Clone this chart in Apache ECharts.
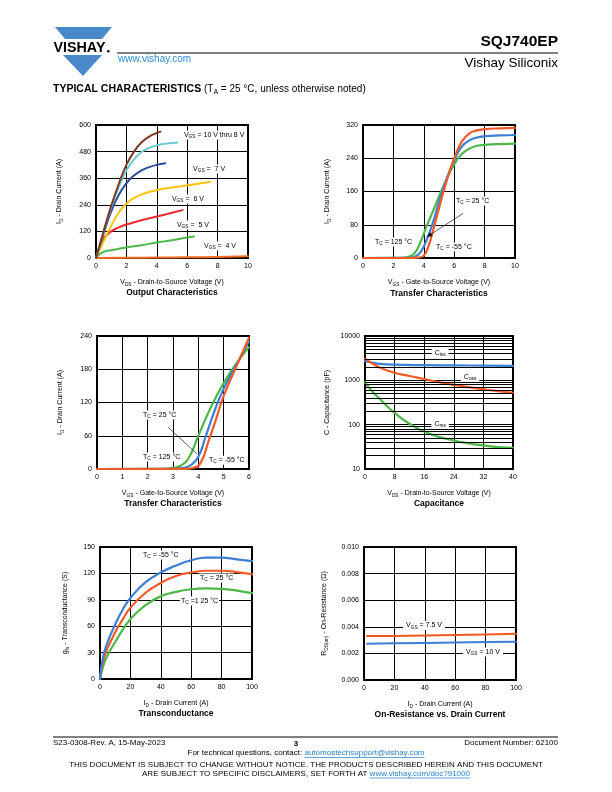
<!DOCTYPE html>
<html><head><meta charset="utf-8">
<script src="https://cdn.jsdelivr.net/npm/echarts@6/dist/echarts.min.js"></script>
<style>html,body{margin:0;padding:0;background:#fff}#c{width:612px;height:792px}</style>
</head><body><div id="c"></div>
<script>
// ---------- DATA ----------
// Output characteristics (VDS in V, ID in A)
const outVds10 = [0,0.5,1,1.5,2,2.5,3,3.5,4,4.25];
const outId10  = [0,120,235,335,420,480,522,548,564,570];
const outVds9  = [0,0.5,1,1.5,2,2.5,3,3.5,4,4.5,5,5.35];
const outId9   = [0,118,228,320,395,445,478,497,508,515,519,521];
const outVds7  = [0,0.5,1,1.5,2,2.5,3,3.5,4,4.55];
const outId7   = [0,110,210,285,337,372,395,410,420,427];
const outVds6  = [0,0.5,1,1.5,2,2.5,3,4,5,6,7,7.5];
const outId6   = [0,75,145,205,245,270,287,306,318,328,338,344];
const outVds5  = [0,0.25,0.5,1,1.5,2,3,4,5,5.7];
const outId5   = [0,50,88,120,138,151,170,187,204,216];
const outVdsG  = [0,0.3,0.6,1,2,3,4,5,6,6.45];
const outIdG   = [0,20,30,35,47,58,70,80,92,97];
const outVds4  = [0,2,4,6,8,10];
const outId4   = [0,1,2,3,5,8];

// Transfer characteristics 0-10 V
const trVgsM55 = [0,3,3.6,4,4.3,4.6,5,5.5,6,6.5,7,7.5,8,9,10];
const trIdM55  = [0,0,1,6,28,65,120,185,240,280,300,307,310,312,313];
const trVgs25  = [0,3,3.4,3.8,4.2,4.6,5,5.5,6,6.5,7,7.5,8,9,10];
const trId25   = [0,0.5,3,15,45,85,135,190,235,268,283,290,293,295,296];
const trVgs125 = [0,2.5,3,3.4,3.8,4.2,4.6,5,5.5,6,6.5,7,7.5,8,9,10];
const trId125  = [0,0.5,3,12,40,78,112,148,190,225,250,263,270,272,274,275];

// Transfer characteristics 0-6 V
const tr2VgsM55 = [0,3.5,3.8,4.1,4.4,4.7,5,5.5,6];
const tr2IdM55  = [0,0.3,2,12,50,90,132,185,237];
const tr2Vgs25  = [0,3,3.4,3.7,4,4.3,4.6,5,5.5,6];
const tr2Id25   = [0,0.3,2,7,22,60,100,145,188,230];
const tr2Vgs125 = [0,2.6,3,3.3,3.6,4,4.5,5,5.5,6];
const tr2Id125  = [0,0.3,2,6,18,60,112,155,190,220];

// Capacitance (VDS in V, C in pF)
const capVdsIss = [0,2,4,8,16,24,32,40];
const capCiss   = [2700,2500,2350,2250,2200,2170,2150,2120];
const capVdsOss = [0,2,4,8,12,16,20,24,28,32,36,40];
const capCoss   = [3100,2400,1950,1480,1250,1070,910,790,700,630,570,520];
const capVdsRss = [0,2,4,6,8,12,16,20,24,28,32,36,40];
const capCrss   = [900,560,380,260,185,105,70,53,44,38,34,31,30];

// Transconductance (ID in A, gfs in S)
const gfsId     = [0,2,5,10,15,20,30,40,50,60,70,80,90,100];
const gfsM55    = [0,25,42,62,79,92,110,121,129,135,138,138,136,134];
const gfs25     = [0,20,35,53,68,81,98,109,117,121,123,123,121.5,119];
const gfs125    = [0,14,27,42,56,68,84,94,99,102,103,102.5,100.5,97.5];

// On-resistance vs drain current
const rdsId     = [2,20,40,60,80,100];
const rds75V    = [0.0033,0.00331,0.00334,0.00338,0.00343,0.00348];
const rds10V    = [0.00273,0.00276,0.00279,0.00282,0.00285,0.00288];

// ---------- STYLE ----------
const FF = '"Liberation Sans", Arial, sans-serif';
const SUB = {fontSize:4.8, lineHeight:9, verticalAlign:'bottom', fontFamily:FF};
const chart = echarts.init(document.getElementById('c'), null, {renderer:'canvas', width:612, height:792});

const grids = [
  {left:96,  top:125, width:152, height:133},
  {left:363, top:125, width:152, height:133},
  {left:97,  top:336, width:152, height:133},
  {left:365, top:336, width:148, height:133},
  {left:100, top:547, width:152, height:132},
  {left:364, top:547, width:152, height:133}
].map(g => Object.assign({show:true, borderColor:'#000', borderWidth:2, backgroundColor:'transparent', containLabel:false}, g));

const axisNameStyle = {fontSize:7, fontFamily:FF, color:'#000', lineHeight:9, rich:{s:SUB}};
function xA(gi, min, max, interval, name){
  return {type:'value', gridIndex:gi, min, max, interval, name, nameLocation:'middle', nameGap:20,
    nameTextStyle:axisNameStyle,
    axisLine:{show:true, onZero:false, lineStyle:{color:'#000', width:2}}, axisTick:{show:false},
    axisLabel:{fontSize:7, fontFamily:FF, color:'#000', margin:5},
    splitLine:{show:true, lineStyle:{color:'#000', width:1}}};
}
function yA(gi, min, max, interval, name, gap, extra){
  return Object.assign({type:'value', gridIndex:gi, min, max, interval, name, nameLocation:'middle', nameGap:gap,
    nameTextStyle:axisNameStyle,
    axisLine:{show:true, onZero:false, lineStyle:{color:'#000', width:2}}, axisTick:{show:false},
    axisLabel:{fontSize:7, fontFamily:FF, color:'#000', margin:5},
    splitLine:{show:true, lineStyle:{color:'#000', width:1}}}, extra||{});
}
function ln(gi, xs, ys, color, w, smooth){
  return {type:'line', xAxisIndex:gi, yAxisIndex:gi, data:xs.map((x,i)=>[x,ys[i]]),
    showSymbol:false, symbol:'none', smooth:(smooth===false?false:true),
    lineStyle:{color, width:w||2, cap:'round', join:'round'}, itemStyle:{color}, silent:true, z:3, animation:false};
}

const C_ORG = '#F15A24', C_BLU = '#3B7FD6', C_GRN = '#4DB848';

const minorLog = [];
[10,100,1000].forEach(d => { for (let k=2;k<=9;k++) minorLog.push({yAxis:d*k}); });

const option = {
  animation:false,
  grid:grids,
  xAxis:[
    xA(0,0,10,2,'V{s|DS} - Drain-to-Source Voltage (V)'),
    xA(1,0,10,2,'V{s|GS} - Gate-to-Source Voltage (V)'),
    xA(2,0,6,1,'V{s|GS} - Gate-to-Source Voltage (V)'),
    xA(3,0,40,8,'V{s|DS} - Drain-to-Source Voltage (V)'),
    xA(4,0,100,20,'I{s|D} - Drain Current (A)'),
    xA(5,0,100,20,'I{s|D} - Drain Current (A)')
  ],
  yAxis:[
    yA(0,0,600,120,'I{s|D} - Drain Current (A)',32),
    yA(1,0,320,80,'I{s|D} - Drain Current (A)',31),
    yA(2,0,240,60,'I{s|D} - Drain Current (A)',32),
    yA(3,10,10000,null,'C - Capacitance (pF)',33,{type:'log', logBase:10, interval:undefined,
      axisLabel:{fontSize:7, fontFamily:FF, color:'#000', margin:5, formatter:v=>String(Math.round(v))}}),
    yA(4,0,150,30,'g{s|fs} - Transconductance (S)',30),
    yA(5,0,0.01,0.002,'R{s|DS(on)} - On-Resistance (Ω)',35,{axisLabel:{fontSize:7, fontFamily:FF, color:'#000', margin:5, formatter:v=>v.toFixed(3)}})
  ],
  series:[
    ln(0,outVds4,outId4,'#F26B21'),
    ln(0,outVdsG,outIdG,'#4CB848'),
    ln(0,outVds5,outId5,'#EE2A2F'),
    ln(0,outVds6,outId6,'#FFC20E'),
    ln(0,outVds7,outId7,'#2B4C9B'),
    ln(0,outVds9,outId9,'#6CCBD4'),
    ln(0,outVds10,outId10,'#7E3A22'),

    ln(1,trVgs125,trId125,C_GRN,2.2),
    ln(1,trVgs25,trId25,C_BLU,2.2),
    ln(1,trVgsM55,trIdM55,C_ORG,2.2),

    ln(2,tr2Vgs125,tr2Id125,C_GRN,2.2),
    ln(2,tr2Vgs25,tr2Id25,C_BLU,2.2),
    ln(2,tr2VgsM55,tr2IdM55,C_ORG,2.2),

    {type:'line', xAxisIndex:3, yAxisIndex:3, data:[], silent:true, z:1,
      markLine:{silent:true, symbol:'none', animation:false, label:{show:false},
        lineStyle:{color:'#000', width:1, type:'solid'}, data:minorLog}},
    ln(3,capVdsIss,capCiss,C_BLU,2.2),
    ln(3,capVdsOss,capCoss,C_ORG,2.2),
    ln(3,capVdsRss,capCrss,C_GRN,2.2),

    ln(4,gfsId,gfs125,C_GRN,2.2),
    ln(4,gfsId,gfs25,C_ORG,2.2),
    ln(4,gfsId,gfsM55,C_BLU,2.2),

    ln(5,rdsId,rds75V,C_ORG,2,false),
    ln(5,rdsId,rds10V,C_BLU,2,false)
  ]
};
chart.setOption(option);

// ---------- ANNOTATIONS ----------
function txt(x, y, text, o){
  o = o || {};
  const st = {text, fontSize:o.size||7, fontFamily:FF, fontWeight:o.weight||'normal', fill:o.color||'#000',
    align:o.align||'left', textAlign:o.align||'left', verticalAlign:o.va||'middle', textVerticalAlign:o.va||'middle',
    lineHeight:o.lh||9, rich:Object.assign({s:Object.assign({}, SUB, o.sub||{})}, o.rich||{})};
  if (o.bg) { st.backgroundColor = o.bg; st.padding = o.pad || [0,1,0,1]; }
  return {type:'text', x, y, silent:true, z:100, style:st};
}
const annos = [
  {g:0, x:5.72, y:555, t:'V{s|GS} = 10 V thru 8 V', bg:'#fff'},
  {g:0, x:6.32, y:402, t:'V{s|GS} =  7 V', bg:'#fff'},
  {g:0, x:4.93, y:266, t:'V{s|GS} =  6 V', bg:'#fff'},
  {g:0, x:5.26, y:149, t:'V{s|GS} =  5 V', bg:'#fff'},
  {g:0, x:7.04, y:54,  t:'V{s|GS} =  4 V', bg:'#fff'},
  {g:1, x:6.05, y:137, t:'T{s|C} = 25 °C', bg:'#fff'},
  {g:1, x:0.72, y:38.5,t:'T{s|C} = 125 °C', bg:'#fff'},
  {g:1, x:4.74, y:26.5,t:'T{s|C} = -55 °C', bg:'#fff'},
  {g:2, x:1.78, y:97.5,t:'T{s|C} = 25 °C', bg:'#fff'},
  {g:2, x:1.78, y:21.7,t:'T{s|C} = 125 °C', bg:'#fff'},
  {g:2, x:4.38, y:16,  t:'T{s|C} = -55 °C', bg:'#fff'},
  {g:3, x:20.3, y:4140,t:'C{s|iss}', bg:'#fff', align:'center', pad:[0,3,0,3]},
  {g:3, x:28.4, y:1190,t:'C{s|oss}', bg:'#fff', align:'center', pad:[0,3,0,3]},
  {g:3, x:20.3, y:103.5,t:'C{s|rss}', bg:'#fff', align:'center', pad:[0,3,0,3]},
  {g:4, x:27.6, y:140.9,t:'T{s|C} = -55 °C', bg:'#fff'},
  {g:4, x:65.1, y:114.8,t:'T{s|C} = 25 °C', bg:'#fff'},
  {g:4, x:52.6, y:88.6, t:'T{s|C} =1 25 °C', bg:'#fff'},
  {g:5, x:25.7, y:0.0041,t:'V{s|GS} = 7.5 V', bg:'#fff', pad:[0,3,0,3]},
  {g:5, x:65.1, y:0.0021,t:'V{s|GS} = 10 V', bg:'#fff', pad:[0,3,0,3]}
];
const P = (g, x, y) => chart.convertToPixel({gridIndex:g}, [x, y]);
const G = [];
annos.forEach(a => { const p = P(a.g, a.x, a.y); G.push(txt(p[0], p[1], a.t, {bg:a.bg, align:a.align, pad:a.pad})); });

// arrow (chart 2) and leader (chart 3)
const a1 = P(1, 6.59, 107.5), a2 = P(1, 4.22, 51);
G.push({type:'line', silent:true, z:99, shape:{x1:a1[0], y1:a1[1], x2:a2[0], y2:a2[1]}, style:{stroke:'#333', lineWidth:0.8}});
(function(){
  const dx = a2[0]-a1[0], dy = a2[1]-a1[1], L = Math.hypot(dx,dy), ux = dx/L, uy = dy/L;
  const bx = a2[0]-ux*5, by = a2[1]-uy*5;
  G.push({type:'polygon', silent:true, z:99, shape:{points:[[a2[0],a2[1]],[bx-uy*2.2,by+ux*2.2],[bx+uy*2.2,by-ux*2.2]]}, style:{fill:'#000'}});
})();
const b1 = P(2, 2.81, 75.3), b2 = P(2, 3.96, 26.6);
G.push({type:'line', silent:true, z:99, shape:{x1:b1[0], y1:b1[1], x2:b2[0], y2:b2[1]}, style:{stroke:'#333', lineWidth:0.8}});

// chart titles
const titles = ['Output Characteristics','Transfer Characteristics','Transfer Characteristics','Capacitance','Transconductance','On-Resistance vs. Drain Current'];
const titleY = [293, 293.3, 503.3, 503.3, 714, 714.3];
grids.forEach((g,i) => G.push(txt(g.left + g.width/2, titleY[i], titles[i], {size:8.5, weight:'bold', align:'center'})));

// ---------- PAGE HEADER / FOOTER ----------
const BLUE_LOGO = '#4A88CC';
G.push({type:'polygon', silent:true, shape:{points:[[55,27],[112,27],[102,39],[65,39]]}, style:{fill:BLUE_LOGO}});
G.push({type:'polygon', silent:true, shape:{points:[[63,55],[102,55],[83,76]]}, style:{fill:BLUE_LOGO}});
G.push(txt(53.5, 48, 'VISHAY', {size:14.3, weight:'bold', lh:14}));
G.push({type:'circle', silent:true, shape:{cx:108.3, cy:51.2, r:1.3}, style:{fill:'#000'}});
G.push(txt(558, 41.5, 'SQJ740EP', {size:15.5, weight:'bold', align:'right', lh:18}));
G.push({type:'line', silent:true, shape:{x1:117, y1:53, x2:558, y2:53}, style:{stroke:'#000', lineWidth:1}});
G.push(txt(118, 59.5, 'www.vishay.com', {size:10, color:'#2F8AD0', lh:12}));
G.push(txt(558, 63, 'Vishay Siliconix', {size:13.5, align:'right', lh:16}));
G.push(txt(53, 89.5, '{b|TYPICAL CHARACTERISTICS} (T{s|A} = 25 °C, unless otherwise noted)',
  {size:10, lh:12, sub:{fontSize:7, lineHeight:12}, rich:{b:{fontSize:10.5, fontWeight:'bold', fontFamily:FF, lineHeight:12}}}));

G.push({type:'line', silent:true, shape:{x1:53, y1:737, x2:558, y2:737}, style:{stroke:'#000', lineWidth:1}});
G.push(txt(53, 743, 'S23-0308-Rev. A, 15-May-2023', {size:8, lh:10}));
G.push(txt(296, 743.5, '3', {size:8, weight:'bold', align:'center', lh:10}));
G.push(txt(558, 743, 'Document Number: 62100', {size:8, align:'right', lh:10}));

const mctx = document.createElement('canvas').getContext('2d');
mctx.font = '8px ' + FF;
const t1 = 'For technical questions, contact: ', l1 = 'automostechsupport@vishay.com';
const w1 = mctx.measureText(t1).width, wl1 = mctx.measureText(l1).width;
const s1 = 306 - (w1 + wl1)/2;
G.push(txt(s1, 753, t1, {size:8, lh:10}));
G.push(txt(s1 + w1, 753, l1, {size:8, lh:10, color:'#1F7FC8'}));
G.push({type:'line', silent:true, shape:{x1:s1+w1, y1:757.5, x2:s1+w1+wl1, y2:757.5}, style:{stroke:'#1F7FC8', lineWidth:0.7}});
G.push(txt(306, 764.5, 'THIS DOCUMENT IS SUBJECT TO CHANGE WITHOUT NOTICE. THE PRODUCTS DESCRIBED HEREIN AND THIS DOCUMENT', {size:8, align:'center', lh:10}));
const t2 = 'ARE SUBJECT TO SPECIFIC DISCLAIMERS, SET FORTH AT ', l2 = 'www.vishay.com/doc?91000';
const w2 = mctx.measureText(t2).width, wl2 = mctx.measureText(l2).width;
const s2 = 306 - (w2 + wl2)/2;
G.push(txt(s2, 773.5, t2, {size:8, lh:10}));
G.push(txt(s2 + w2, 773.5, l2, {size:8, lh:10, color:'#1F7FC8'}));
G.push({type:'line', silent:true, shape:{x1:s2+w2, y1:778, x2:s2+w2+wl2, y2:778}, style:{stroke:'#1F7FC8', lineWidth:0.7}});

chart.setOption({graphic:{elements:G}});
</script></body></html>
